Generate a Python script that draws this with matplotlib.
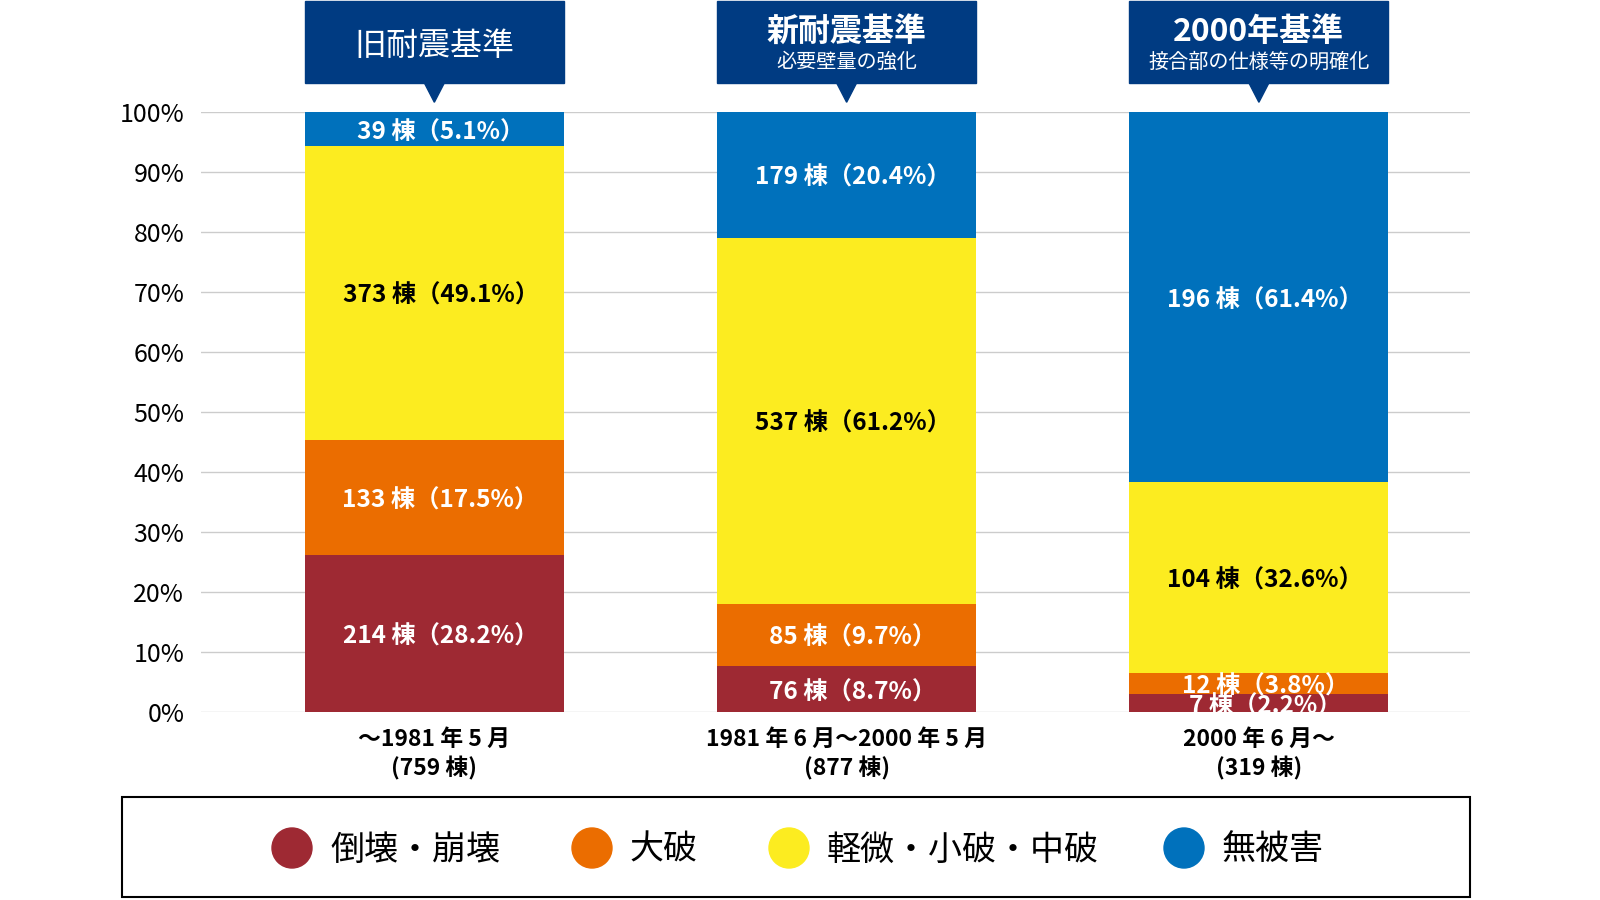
import matplotlib.pyplot as plt
import numpy as np
from matplotlib.patches import Rectangle, Polygon, Circle

plt.rcParams['font.family'] = ['Noto Sans CJK JP', 'DejaVu Sans']

# Data
periods = ["～1981 年 5 月", "1981 年 6 月～2000 年 5 月", "2000 年 6 月～"]
totals = [759, 877, 319]
titles = ["旧耐震基準", "新耐震基準", "2000年基準"]
subtitles = ["", "必要壁量の強化", "接合部の仕様等の明確化"]
categories = ["倒壊・崩壊", "大破", "軽微・小破・中破", "無被害"]

collapse_n = [214, 76, 7]
major_n = [133, 85, 12]
minor_n = [373, 537, 104]
none_n = [39, 179, 196]

collapse_pct = [28.2, 8.7, 2.2]
major_pct = [17.5, 9.7, 3.8]
minor_pct = [49.1, 61.2, 32.6]
none_pct = [5.1, 20.4, 61.4]

# segment heights as they are drawn in the original (slightly off the labels)
collapse_h = [26.2, 7.7, 3.05]
major_h = [19.2, 10.35, 3.55]
minor_h = [49.0, 61.05, 31.8]
none_h = [5.6, 20.9, 61.6]

colors = ["#9E2933", "#EB6D00", "#FCEC20", "#0071BC"]
text_colors = ["white", "white", "black", "white"]
navy = "#003B82"

fig = plt.figure(figsize=(16, 9), dpi=100)
ax = fig.add_axes([201 / 1600, 1 - 712.3 / 900, 1269 / 1600, 600 / 900])

x = np.arange(len(periods))
width = 0.628
bottom = np.zeros(len(x))
series = [
    (collapse_h, collapse_n, collapse_pct),
    (major_h, major_n, major_pct),
    (minor_h, minor_n, minor_pct),
    (none_h, none_n, none_pct),
]
for (h, n, p), c, tc in zip(series, colors, text_colors):
    h = np.array(h)
    ax.bar(x, h, width, bottom=bottom, color=c, zorder=2)
    # full-width closing paren carries trailing space, nudge right a bit
    for xi, b, hi, ni, pi in zip(x, bottom, h, n, p):
        ax.text(xi + 0.015, b + hi / 2 - 0.5, f"{ni} 棟（{pi}%）", ha="center",
                va="center", color=tc, fontsize=17.5, fontweight="bold", zorder=3)
    bottom += h

ax.set_xlim(-0.566, 2.512)
ax.set_ylim(0, 100)
ax.set_yticks(range(0, 101, 10))
ax.set_yticklabels([f"{v}%" for v in range(0, 101, 10)], fontsize=18)
ax.set_xticks([])
ax.tick_params(axis="y", length=0, pad=12)
ax.grid(axis="y", color="#CCCCCC", lw=1, zorder=0)
for s in ax.spines.values():
    s.set_visible(False)

# period labels under the bars
for xi, per, tot in zip(x, periods, totals):
    ax.text(xi, -4.45, per, ha="center", va="center", fontsize=16.5,
            fontweight="bold", clip_on=False)
    ax.text(xi, -9.3, f"({tot} 棟)", ha="center", va="center", fontsize=16.5,
            fontweight="bold", clip_on=False)

# header boxes with pointer
for xi, t, st in zip(x, titles, subtitles):
    ax.add_patch(Rectangle((xi - width / 2, 104.93), width, 13.7, color=navy,
                           clip_on=False, zorder=4))
    ax.add_patch(Polygon([(xi - 0.025, 105), (xi + 0.025, 105), (xi, 101.67)],
                         closed=True, color=navy, clip_on=False, zorder=4))
    if st:
        ax.text(xi, 113.3, t, ha="center", va="center", color="white",
                fontsize=23, fontweight="bold", clip_on=False, zorder=5)
        ax.text(xi, 108.4, st, ha="center", va="center", color="white",
                fontsize=14.5, clip_on=False, zorder=5)
    else:
        ax.text(xi, 111.0, t, ha="center", va="center", color="white",
                fontsize=23, clip_on=False, zorder=5)

# legend box
lax = fig.add_axes([122 / 1600, 3 / 900, 1348 / 1600, 100 / 900])
lax.set_xlim(122, 1470)
lax.set_ylim(897, 797)
lax.axis("off")
lax.add_patch(Rectangle((122, 797), 1348, 100, fill=False, ec="black", lw=1.5,
                        clip_on=False))
legend_x = [292, 592, 789, 1184]
for lx, name, c in zip(legend_x, categories, colors):
    lax.add_patch(Circle((lx, 848), 20, color=c))
    lax.text(lx + 38, 850, name, ha="left", va="center", fontsize=24.5)

fig.savefig("out.png", dpi=100)
